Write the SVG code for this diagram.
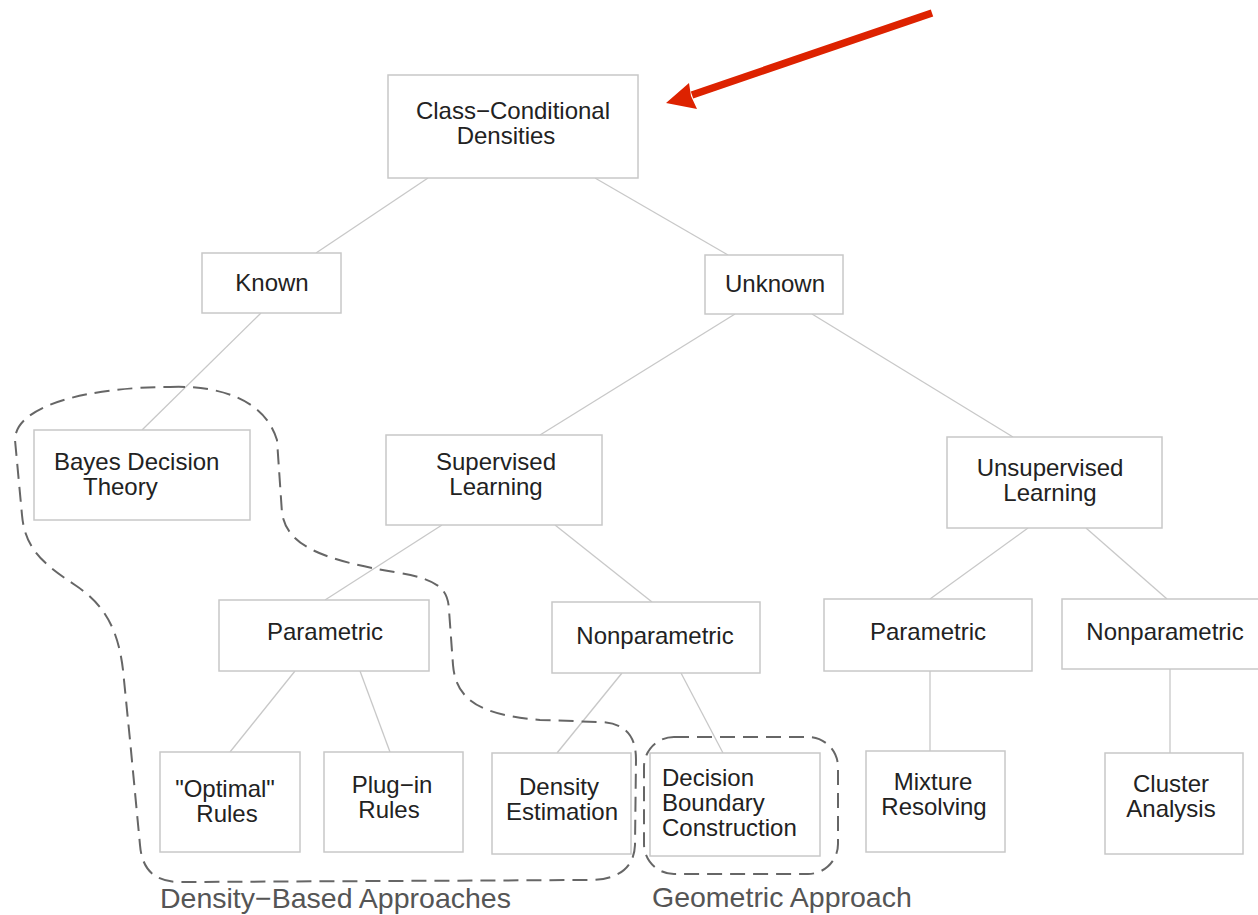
<svg xmlns="http://www.w3.org/2000/svg" width="1258" height="915" viewBox="0 0 1258 915">
<style>
.box{fill:#fff;stroke:#c8c8c8;stroke-width:1.5}
.t{font-family:"Liberation Sans",Arial,sans-serif;font-size:24px;fill:#222;text-anchor:middle}
.tl{font-family:"Liberation Sans",Arial,sans-serif;font-size:24px;fill:#222}
.lab{font-family:"Liberation Sans",Arial,sans-serif;font-size:28.5px;fill:#555}
.edge{stroke:#c8c8c8;stroke-width:1.3;fill:none}
.loop{stroke:#666;stroke-width:2;fill:none;stroke-dasharray:15 8}
</style>
<rect width="1258" height="915" fill="#fff"/>
<g id="connectors">
<line class="edge" x1="428" y1="178" x2="316" y2="253"/>
<line class="edge" x1="595" y1="178" x2="728" y2="255"/>
<line class="edge" x1="261" y1="313" x2="142" y2="430"/>
<line class="edge" x1="735" y1="314" x2="540" y2="435"/>
<line class="edge" x1="812" y1="314" x2="1013" y2="437"/>
<line class="edge" x1="442" y1="525" x2="325" y2="600"/>
<line class="edge" x1="555" y1="525" x2="652" y2="602"/>
<line class="edge" x1="1028" y1="528" x2="930" y2="599"/>
<line class="edge" x1="1086" y1="528" x2="1167" y2="599"/>
<line class="edge" x1="930" y1="671" x2="930" y2="751"/>
<line class="edge" x1="1170" y1="669" x2="1170" y2="753"/>
<line class="edge" x1="295" y1="671" x2="230" y2="752"/>
<line class="edge" x1="360" y1="671" x2="390" y2="752"/>
<line class="edge" x1="622" y1="673" x2="557" y2="753"/>
<line class="edge" x1="681" y1="673" x2="723" y2="753"/>
</g>
<g id="n-ccd"><rect class="box" x="388" y="75" width="250" height="103"/><text class="t" x="513" y="119">Class−Conditional</text><text class="t" x="506" y="144">Densities</text></g>
<g id="n-known"><rect class="box" x="202" y="253" width="139" height="60"/><text class="t" x="272" y="291">Known</text></g>
<g id="n-unknown"><rect class="box" x="705" y="255" width="138" height="59"/><text class="t" x="775" y="292">Unknown</text></g>
<g id="n-bayes"><rect class="box" x="34" y="430" width="216" height="90"/><text class="tl" x="54" y="470">Bayes Decision</text><text class="tl" x="83" y="495">Theory</text></g>
<g id="n-sup"><rect class="box" x="386" y="435" width="216" height="90"/><text class="t" x="496" y="470">Supervised</text><text class="t" x="496" y="495">Learning</text></g>
<g id="n-unsup"><rect class="box" x="947" y="437" width="215" height="91"/><text class="t" x="1050" y="476">Unsupervised</text><text class="t" x="1050" y="501">Learning</text></g>
<g id="n-param-l"><rect class="box" x="219" y="600" width="210" height="71"/><text class="t" x="325" y="640">Parametric</text></g>
<g id="n-nonparam-m"><rect class="box" x="552" y="602" width="208" height="71"/><text class="t" x="655" y="644">Nonparametric</text></g>
<g id="n-param-r"><rect class="box" x="824" y="599" width="208" height="72"/><text class="t" x="928" y="640">Parametric</text></g>
<g id="n-nonparam-r"><rect class="box" x="1062" y="599" width="200" height="70"/><text class="t" x="1165" y="640">Nonparametric</text></g>
<g id="n-optimal"><rect class="box" x="160" y="752" width="140" height="100"/><text class="t" x="225" y="797">"Optimal"</text><text class="t" x="227" y="822">Rules</text></g>
<g id="n-plugin"><rect class="box" x="324" y="752" width="139" height="100"/><text class="t" x="392" y="793">Plug−in</text><text class="t" x="389" y="818">Rules</text></g>
<g id="n-density"><rect class="box" x="492" y="753" width="139" height="101"/><text class="t" x="559" y="795">Density</text><text class="t" x="562" y="820">Estimation</text></g>
<g id="n-boundary"><rect class="box" x="650" y="753" width="170" height="103"/><text class="tl" x="662" y="786">Decision</text><text class="tl" x="662" y="811">Boundary</text><text class="tl" x="662" y="836">Construction</text></g>
<g id="n-mixture"><rect class="box" x="866" y="751" width="139" height="101"/><text class="t" x="933" y="790">Mixture</text><text class="t" x="934" y="815">Resolving</text></g>
<g id="n-cluster"><rect class="box" x="1105" y="753" width="138" height="101"/><text class="t" x="1171" y="792">Cluster</text><text class="t" x="1171" y="817">Analysis</text></g>
<g id="groups">
<path class="loop" d="M170 387 C220 385 265 400 277 440 L282 513 C287 545 320 560 400 573 C440 580 448 590 449 610 L453 665 C456 700 480 715 540 720 L600 722 C625 723 636 735 636 760 L635 845 C634 870 615 880 590 880 L180 882 C155 882 142 870 140 845 L130 740 L124 680 C120 630 105 605 75 585 C45 565 25 550 22 515 L15 440 C15 405 90 387 170 387 Z"/>
<rect class="loop" x="644" y="737" width="194" height="137" rx="30"/>
<text class="lab" x="160" y="908">Density−Based Approaches</text>
<text class="lab" x="652" y="907">Geometric Approach</text>
</g>
<g id="arrow">
<line x1="932" y1="13" x2="692" y2="95" stroke="#dd2200" stroke-width="7.5"/>
<polygon points="666,103 689,83 691,96 697,109" fill="#dd2200"/>
</g>
</svg>
